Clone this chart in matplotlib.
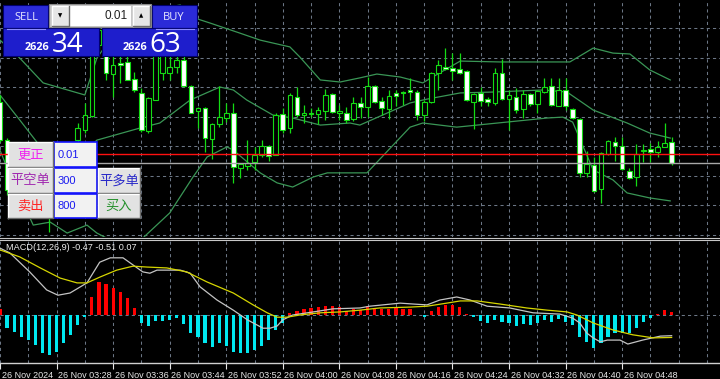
import matplotlib
matplotlib.use("Agg")
import matplotlib.pyplot as plt
from matplotlib.patches import Rectangle
import matplotlib.transforms as mtransforms
import numpy as np

# ---- 1-minute candles, 03:20 .. 04:55 (index = minutes after 03:20) ----
opens = [2628.39, 2627.10, 2625.41, 2625.58, 2625.07, 2625.31, 2624.90, 2625.07, 2624.73, 2625.41,
         2626.09, 2627.10, 2627.44, 2627.92, 2630.32, 2630.77, 2629.34, 2629.71, 2629.75, 2629.17,
         2628.70, 2627.41, 2628.46, 2629.38, 2629.38, 2629.58, 2629.82, 2628.94, 2628.09, 2628.19,
         2627.14, 2627.65, 2627.85, 2628.02, 2626.15, 2626.22, 2626.36, 2626.60, 2626.90, 2626.60,
         2627.99, 2627.51, 2628.56, 2627.95, 2627.99, 2627.99, 2628.09, 2628.66, 2628.02, 2628.02,
         2627.82, 2628.36, 2628.22, 2628.94, 2628.43, 2628.16, 2628.70, 2628.73, 2628.80, 2628.73,
         2627.95, 2628.39, 2629.38, 2629.58, 2629.54, 2629.51, 2629.44, 2628.39, 2628.70, 2628.49,
         2628.36, 2629.38, 2628.49, 2628.56, 2628.16, 2628.66, 2628.32, 2628.73, 2628.94, 2628.26,
         2628.80, 2628.16, 2627.82, 2625.99, 2626.26, 2625.44, 2626.63, 2627.04, 2626.90, 2626.05,
         2625.85, 2626.73, 2626.80, 2626.70, 2626.87, 2627.04]
highs = [2628.63, 2627.17, 2625.75, 2625.65, 2625.41, 2625.51, 2625.14, 2625.24, 2625.58, 2626.26,
         2627.04, 2627.68, 2628.36, 2630.49, 2631.00, 2630.90, 2630.15, 2629.99, 2629.99, 2629.41,
         2628.87, 2628.56, 2630.49, 2631.68, 2630.15, 2630.32, 2630.09, 2628.97, 2628.22, 2628.22,
         2627.68, 2628.94, 2628.36, 2628.36, 2626.32, 2627.10, 2626.87, 2627.10, 2626.93, 2628.02,
         2628.19, 2628.70, 2628.90, 2628.29, 2628.19, 2628.22, 2628.83, 2628.70, 2628.29, 2628.22,
         2628.56, 2628.56, 2629.24, 2628.97, 2628.56, 2628.80, 2628.80, 2628.77, 2629.21, 2628.80,
         2628.46, 2629.41, 2629.82, 2630.22, 2630.05, 2630.05, 2629.48, 2628.70, 2628.90, 2628.56,
         2629.54, 2629.85, 2628.80, 2628.87, 2628.80, 2628.70, 2628.80, 2629.21, 2629.21, 2629.21,
         2629.21, 2628.19, 2627.85, 2626.73, 2626.53, 2626.70, 2627.10, 2627.21, 2627.21, 2626.15,
         2626.97, 2626.97, 2627.00, 2627.07, 2627.68, 2627.21]
lows = [2627.04, 2625.24, 2625.07, 2624.90, 2624.73, 2624.63, 2624.56, 2623.99, 2624.63, 2625.24,
        2625.92, 2627.04, 2627.34, 2627.88, 2630.15, 2629.14, 2628.56, 2629.04, 2629.14, 2628.73,
        2627.38, 2627.34, 2628.46, 2629.14, 2629.14, 2629.38, 2628.90, 2628.02, 2627.51, 2626.70,
        2626.46, 2627.54, 2627.71, 2625.65, 2625.82, 2626.09, 2626.09, 2626.53, 2626.39, 2626.60,
        2627.34, 2627.34, 2627.88, 2627.68, 2627.88, 2627.65, 2627.78, 2628.02, 2627.78, 2627.68,
        2627.75, 2627.85, 2627.88, 2628.36, 2627.95, 2627.82, 2628.26, 2628.29, 2628.46, 2627.78,
        2627.75, 2628.36, 2628.80, 2629.48, 2629.14, 2629.34, 2628.43, 2627.48, 2628.26, 2628.26,
        2628.29, 2628.46, 2627.44, 2628.02, 2627.85, 2628.26, 2628.02, 2628.70, 2628.26, 2628.26,
        2628.12, 2627.82, 2625.85, 2625.85, 2625.34, 2624.97, 2626.60, 2626.39, 2626.09, 2625.78,
        2625.55, 2626.36, 2626.36, 2626.53, 2626.87, 2626.26]
closes = [2627.10, 2625.41, 2625.58, 2625.07, 2625.31, 2624.90, 2625.07, 2624.73, 2625.41, 2626.09,
          2626.93, 2627.51, 2627.95, 2630.32, 2630.83, 2629.38, 2629.65, 2629.65, 2629.14, 2628.80,
          2627.44, 2628.53, 2630.15, 2630.83, 2629.58, 2629.82, 2628.94, 2628.02, 2628.19, 2627.17,
          2627.65, 2627.88, 2628.02, 2626.19, 2626.29, 2626.32, 2626.60, 2626.90, 2626.56, 2627.95,
          2627.44, 2628.63, 2627.95, 2628.02, 2628.02, 2628.12, 2628.63, 2628.05, 2628.09, 2627.78,
          2628.36, 2628.22, 2628.94, 2628.39, 2628.19, 2628.60, 2628.60, 2628.70, 2628.73, 2627.95,
          2628.39, 2629.38, 2629.65, 2629.51, 2629.44, 2629.38, 2628.46, 2628.66, 2628.43, 2628.39,
          2629.38, 2628.49, 2628.63, 2628.12, 2628.66, 2628.32, 2628.77, 2628.90, 2628.29, 2628.80,
          2628.26, 2627.85, 2625.99, 2626.29, 2625.38, 2626.66, 2627.07, 2626.90, 2626.12, 2625.82,
          2626.63, 2626.76, 2626.70, 2626.87, 2627.00, 2626.34]

# Bollinger bands (vertices: minute, price)
bb_upper_t = [0, 2.8, 6.1, 12.0, 13.7, 17.0, 21.2, 25.5, 27.9, 29.7, 33.9, 36.8, 41.0, 42.4, 45.3,
              48.1, 50.9, 53.3, 56.6, 59.8, 61.2, 65.1, 70.7, 80.6, 83.9, 86.7, 89.1, 91.9, 94.8]
bb_upper_p = [2630.49, 2629.88, 2629.04, 2628.63, 2629.88, 2631.00, 2631.51, 2631.68, 2631.21, 2631.07,
              2630.73, 2630.49, 2630.26, 2629.92, 2629.14, 2629.07, 2629.21, 2629.34, 2629.24, 2629.04,
              2629.24, 2629.78, 2629.75, 2629.75, 2630.22, 2630.05, 2630.02, 2629.48, 2629.14]
bb_mid_t = [0, 2.8, 6.1, 9.9, 12.3, 13.7, 19.8, 22.6, 26.9, 31.1, 33.0, 34.9, 38.6, 41.4, 45.3,
            49.5, 50.9, 58.0, 60.4, 65.1, 69.7, 76.8, 80.2, 83.9, 88.7, 91.9, 94.8]
bb_mid_p = [2628.63, 2627.78, 2626.76, 2626.49, 2626.76, 2627.10, 2627.51, 2627.68, 2628.46, 2628.90,
            2628.80, 2628.46, 2627.95, 2627.85, 2627.61, 2627.68, 2627.61, 2628.36, 2628.49, 2628.70,
            2628.73, 2628.80, 2628.73, 2628.12, 2627.68, 2627.34, 2627.17]
bb_lower_t = [0, 1.4, 4.7, 7.1, 9.5, 12.3, 13.7, 17.0, 20.2, 24.0, 27.3, 29.3, 32.1, 33.0, 36.8,
              39.2, 41.4, 44.3, 46.3, 51.9, 58.0, 59.8, 64.6, 77.4, 79.6, 81.0, 83.9, 86.7, 88.7,
              91.9, 94.8]
bb_lower_p = [2626.76, 2625.92, 2624.22, 2624.32, 2623.95, 2624.22, 2623.95, 2623.54, 2623.78, 2624.63,
              2625.85, 2626.53, 2626.87, 2626.76, 2625.99, 2625.65, 2625.51, 2625.85, 2625.99, 2625.99,
              2627.54, 2627.68, 2627.54, 2627.85, 2627.88, 2627.71, 2626.09, 2625.75, 2625.31, 2625.14,
              2625.04]

bid = 2626.34
ask = 2626.63

# MACD(12,26,9)
macd_hist = [0.13, -0.30, -0.39, -0.50, -0.57, -0.68, -0.86, -0.91, -0.84, -0.64,
             -0.45, -0.23, -0.05, 0.41, 0.75, 0.70, 0.61, 0.52, 0.39, 0.16,
             -0.18, -0.25, -0.14, -0.14, -0.11, -0.07, -0.20, -0.41, -0.50, -0.64,
             -0.73, -0.64, -0.70, -0.84, -0.86, -0.86, -0.80, -0.70, -0.57, -0.34,
             -0.18, 0.05, 0.09, 0.14, 0.16, 0.18, 0.20, 0.20, 0.18, 0.09,
             0.14, 0.11, 0.20, 0.16, 0.14, 0.14, 0.16, 0.14, 0.14, 0.01,
             -0.05, 0.09, 0.18, 0.23, 0.23, 0.18, 0.02, -0.05, -0.14, -0.18,
             -0.11, -0.16, -0.18, -0.25, -0.20, -0.23, -0.18, -0.11, -0.16, -0.09,
             -0.16, -0.23, -0.50, -0.61, -0.75, -0.64, -0.50, -0.41, -0.41, -0.41,
             -0.30, -0.16, -0.07, 0.02, 0.11, 0.07]
macd_main_t = [0, 1.4, 4.2, 6.6, 8.2, 9.9, 12.3, 14.1, 15.6, 17.4, 18.8, 20.2, 21.2, 22.2, 25.5,
               26.9, 28.3, 30.7, 33.0, 35.0, 37.2, 38.2, 39.2, 40.0, 41.4, 44.3, 47.1, 50.9, 52.3,
               56.6, 58.4, 60.4, 62.2, 64.6, 66.5, 68.9, 72.1, 75.4, 79.2, 81.0, 82.0, 83.0, 83.9,
               84.9, 85.9, 87.7, 88.8, 90.9, 93.4, 95.0]
macd_main_v = [1.52, 1.41, 0.98, 0.57, 0.45, 0.50, 0.73, 1.20, 1.30, 1.30, 1.14, 0.98, 0.95, 1.02, 1.02,
               0.95, 0.64, 0.34, 0.11, -0.11, -0.30, -0.30, -0.25, -0.11, 0.00, 0.07, 0.14, 0.16, 0.20,
               0.27, 0.25, 0.23, 0.34, 0.41, 0.34, 0.20, 0.16, 0.05, 0.02, -0.07, -0.18, -0.41, -0.52,
               -0.61, -0.57, -0.57, -0.66, -0.57, -0.48, -0.47]
macd_sig_t = [0, 2.8, 5.7, 8.5, 10.9, 12.3, 14.1, 16.5, 18.8, 20.8, 23.6, 26.4, 29.3, 33.0, 35.8,
              37.8, 39.2, 40.6, 42.4, 45.3, 48.1, 50.9, 53.7, 58.0, 60.4, 63.2, 65.1, 67.5, 70.7,
              74.5, 77.4, 80.2, 81.6, 83.9, 86.7, 89.5, 92.4, 95.0]
macd_sig_v = [1.48, 1.32, 1.07, 0.84, 0.73, 0.73, 0.86, 1.02, 1.11, 1.09, 1.07, 0.98, 0.75, 0.50, 0.23,
              0.05, -0.05, -0.05, 0.00, 0.05, 0.07, 0.11, 0.16, 0.18, 0.20, 0.27, 0.32, 0.32, 0.25,
              0.16, 0.11, 0.07, 0.00, -0.18, -0.34, -0.45, -0.52, -0.51]

time_ticks = [0, 8, 16, 24, 32, 40, 48, 56, 64, 72, 80, 88]
time_labels = ["26 Nov 2024", "26 Nov 03:28", "26 Nov 03:36", "26 Nov 03:44", "26 Nov 03:52",
               "26 Nov 04:00", "26 Nov 04:08", "26 Nov 04:16", "26 Nov 04:24", "26 Nov 04:32",
               "26 Nov 04:40", "26 Nov 04:48"]

W, H = 720, 379
XMAX = 101.84
grid_c = "#6b7685"
dash = (0, (3, 3))
green = "#14dc14"
band_c = "#3a9656"

fig = plt.figure(figsize=(W / 100, H / 100), dpi=100, facecolor="black")
ax = fig.add_axes([0, (H - 237) / H, 1, 237 / H])
axm = fig.add_axes([0, (H - 363) / H, 1, 123 / H])

for a in (ax, axm):
    a.set_facecolor("black")
    a.set_xlim(0, XMAX)
    for s in a.spines.values():
        s.set_visible(False)
    a.set_yticks([])
    for m in np.arange(0, XMAX, 4):
        a.axvline(m, color=grid_c, lw=0.75, ls=dash, zorder=1)

# ---- price panel ----
ax.set_ylim(2623.816, 2631.85)
ax.set_xticks([])
for p in np.arange(2623.90, 2631.0, 1.0):
    ax.axhline(p, color=grid_c, lw=0.75, ls=dash, zorder=1)

ax.plot(bb_upper_t, bb_upper_p, color=band_c, lw=0.9, zorder=2)
ax.plot(bb_mid_t, bb_mid_p, color=band_c, lw=0.9, zorder=2)
ax.plot(bb_lower_t, bb_lower_p, color=band_c, lw=0.9, zorder=2)

o = np.array(opens)
c = np.array(closes)
idx = np.arange(len(c))
body = c - o
body = np.where(np.abs(body) < 0.01, 0.01, body)
fills = ["black" if cc >= oo else "white" for oo, cc in zip(o, c)]
ax.vlines(idx, lows, highs, color=green, lw=0.9, zorder=3)
ax.bar(idx, body, bottom=o, width=0.66, color=fills, edgecolor=green, linewidth=0.8, zorder=4)

ax.axhline(ask, color="#ff1010", lw=1.0, zorder=5)
ax.axhline(bid, color="#a8a8a8", lw=1.0, zorder=5)

# ---- MACD panel ----
axm.set_ylim(-1.091, 1.705)
axm.axhline(0, color=grid_c, lw=0.75, ls=dash, zorder=1)
hcol = ["#ff0000" if v > 0 else "#00e8f0" for v in macd_hist]
axm.bar(idx, macd_hist, width=0.45, color=hcol, zorder=2)
axm.plot(macd_main_t, macd_main_v, color="#c4c4c4", lw=0.9, zorder=3)
axm.plot(macd_sig_t, macd_sig_v, color="#d6d600", lw=0.9, zorder=3)
axm.text(0.008, 0.935, "MACD(12,26,9) -0.47 -0.51 0.07", transform=axm.transAxes,
         color="#ececec", fontsize=6.6, family="Liberation Sans", va="center", ha="left", zorder=6)

axm.spines["bottom"].set_visible(True)
axm.spines["bottom"].set_color("#d0d0d0")
axm.spines["bottom"].set_linewidth(1.0)
axm.set_xticks(time_ticks, time_labels)
axm.tick_params(axis="x", colors="#e8e8e8", length=4, width=0.8, pad=1.5, labelsize=6.5)
shift = mtransforms.ScaledTranslation(1.5 / 100, 0, fig.dpi_scale_trans)
for lab in axm.get_xticklabels():
    lab.set_ha("left")
    lab.set_family("Liberation Sans")
    lab.set_transform(lab.get_transform() + shift)

# ---- overlay: window separator and trading panels (pixel coords) ----
ov = fig.add_axes([0, 0, 1, 1], zorder=10)
ov.set_xlim(0, W)
ov.set_ylim(H, 0)
ov.axis("off")
ov.patch.set_alpha(0)

ov.plot([0, W], [238, 238], color="#c8c8c8", lw=0.8)
ov.plot([0, W], [240.3, 240.3], color="#c8c8c8", lw=0.8)


def rect(x0, y0, x1, y1, fc, ec="none", lw=0.8):
    ov.add_patch(Rectangle((x0, y0), x1 - x0, y1 - y0, facecolor=fc, edgecolor=ec, lw=lw))


def button3d(x0, y0, x1, y1, face="#e2e2e2"):
    rect(x0, y0, x1, y1, face)
    ov.plot([x0, x0, x1], [y1, y0, y0], color="white", lw=1)
    ov.plot([x0, x1, x1], [y1, y1, y0], color="#6c6c6c", lw=1)


cjk = ["Noto Sans CJK SC", "DejaVu Sans"]

# one-click trading panel
blue_btn = "#2b2bd8"
blue_box = "#1e1ecc"
rect(3, 5, 48, 28, blue_btn, "#000070")
rect(152, 5, 197, 28, blue_btn, "#000070")
rect(3, 28, 99, 56, blue_box, "#000070")
rect(102, 28, 197, 56, blue_box, "#000070")
ov.plot([7, 45], [29, 29], color="#8c8cff", lw=0.8)
ov.plot([156, 194], [29, 29], color="#8c8cff", lw=0.8)
ov.text(26, 17, "SELL", color="#e8e8ff", fontsize=8, family="Open Sans", ha="center", va="center")
ov.text(174, 17, "BUY", color="#e8e8ff", fontsize=8, family="Open Sans", ha="center", va="center")
ov.text(49, 50, "2626", color="white", fontsize=7.8, fontweight="bold", family="Open Sans",
        ha="right", va="baseline")
ov.text(52, 51.5, "34", color="white", fontsize=20, family="Open Sans", ha="left", va="baseline")
ov.text(147, 50, "2626", color="white", fontsize=7.8, fontweight="bold", family="Open Sans",
        ha="right", va="baseline")
ov.text(149, 51.5, "63", color="white", fontsize=20, family="Open Sans", ha="left", va="baseline")

rect(49, 4, 151, 27, "#c8c8c8", "#8a8a8a")
button3d(51.5, 6, 68.5, 25.5, "#e6e6e6")
rect(70, 6, 131, 25.5, "white")
button3d(132.5, 6, 149.5, 25.5, "#e6e6e6")
ov.text(60, 16, "\u25bc", color="black", fontsize=4, ha="center", va="center", family="DejaVu Sans")
ov.text(141, 15.5, "\u25b2", color="black", fontsize=4, ha="center", va="center", family="DejaVu Sans")
ov.text(128, 16, "0.01", color="#202020", fontsize=8.5, family="Liberation Sans", ha="right", va="center")

# order buttons panel
boxes = [(54, 142, 97, 167, "0.01"), (54, 167.5, 97, 193, "300"), (54, 193.5, 97, 218, "800")]
for x0, y0, x1, y1, s in boxes:
    rect(x0, y0, x1, y1, "#f2f2f2", "#1414ff", 1.2)
    ov.text(x0 + 4, (y0 + y1) / 2 + 0.5, s, color="#1a1af0", fontsize=8,
            family="Liberation Sans", ha="left", va="center")

buttons = [(8, 142, 53, 167, "更正", "#f020f0"),
           (8, 167.5, 53, 193, "平空单", "#a028b0"),
           (8, 193.5, 53, 218, "卖出", "#ff2424"),
           (98, 168, 140, 193, "平多单", "#2828c8"),
           (98, 194, 140, 218, "买入", "#23902a")]
for x0, y0, x1, y1, s, col in buttons:
    button3d(x0, y0, x1, y1)
    ov.text((x0 + x1) / 2, (y0 + y1) / 2 + 0.5, s, color=col, fontsize=9.5, family=cjk,
            ha="center", va="center")

fig.savefig("out.png", dpi=100, facecolor="black")
